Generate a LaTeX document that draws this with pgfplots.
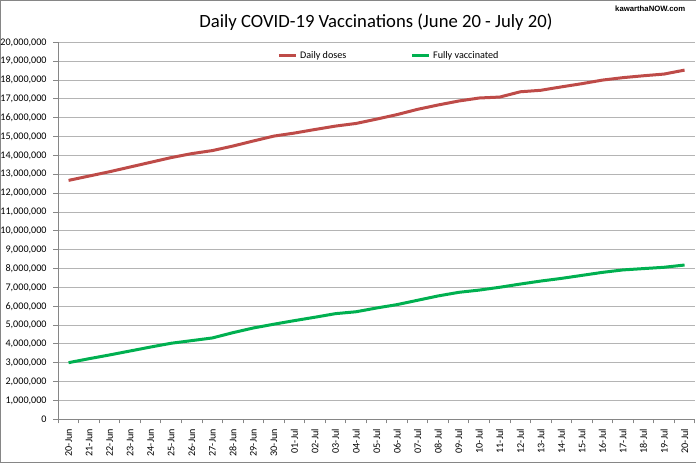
\documentclass[border=0pt]{standalone}
\usepackage{pgfplots}
\pgfplotsset{compat=1.18}
\usepackage{fontspec}
\setmainfont{Carlito}
\newfontfamily\wmfont{Liberation Sans}
\definecolor{doses}{HTML}{BE4B48}
\definecolor{fully}{HTML}{00B050}
\definecolor{gridgray}{HTML}{B4B4B4}
\definecolor{axgray}{HTML}{868686}

\begin{document}
\begin{tikzpicture}[x=0.75pt,y=0.75pt]
\useasboundingbox (0,0) rectangle (696,464);
% outer chart frame (right side is cropped in the reference)
\draw[axgray, line width=0.75pt] (700,463.5) -- (0.5,463.5) -- (0.5,1.3) -- (700,1.3);
\node[font=\fontsize{14}{16}\selectfont] at (376,442) {Daily COVID-19 Vaccinations (June 20 - July 20)};
\node[font=\wmfont\bfseries\fontsize{5.8}{7}\selectfont, anchor=east] at (690,455) {kawarthaNOW.com};

\begin{axis}[
  at={(43.725pt,33.45pt)}, anchor=south west,
  scale only axis, width=477.4pt, height=282.75pt,
  xmin=-0.5, xmax=30.5, ymin=0, ymax=20000000,
  axis x line*=bottom, axis y line*=left,
  axis line style={axgray, line width=0.75pt},
  tick align=outside,
  xtick={0,...,30},
  xticklabels={20-Jun,21-Jun,22-Jun,23-Jun,24-Jun,25-Jun,26-Jun,27-Jun,28-Jun,29-Jun,30-Jun,
    01-Jul,02-Jul,03-Jul,04-Jul,05-Jul,06-Jul,07-Jul,08-Jul,09-Jul,10-Jul,11-Jul,12-Jul,
    13-Jul,14-Jul,15-Jul,16-Jul,17-Jul,18-Jul,19-Jul,20-Jul},
  minor xtick={-0.5,0.5,...,30.5},
  every major x tick/.append style={draw=none},
  every minor x tick/.append style={axgray, line width=0.75pt},
  every major y tick/.append style={axgray, line width=0.75pt},
  major tick length=3.75pt, minor tick length=3pt,
  ytick distance=1000000,
  scaled y ticks=false,
  ymajorgrids, major grid style={gridgray, line width=0.75pt},
  yticklabel style={font=\fontsize{7.6}{9}\selectfont, xshift=-1.5pt,
    /pgf/number format/.cd, fixed, 1000 sep={,}, assume math mode=true},
  xticklabel style={font=\fontsize{7.6}{9}\selectfont, rotate=90, anchor=east},
  legend style={at={(0.52,0.964)}, anchor=center, draw=none, fill=none,
    font=\fontsize{7.6}{9}\selectfont,
    /tikz/every even column/.append style={column sep=46pt}},
  legend columns=2,
  legend image code/.code={\draw[#1] (0cm,0cm) -- (0.45cm,0cm);},
]
\addplot[doses, line width=2.25pt, line join=round, no marks] coordinates {
 (0,12680000) (1,12910000) (2,13140000) (3,13390000) (4,13640000) (5,13890000)
 (6,14100000) (7,14260000) (8,14500000) (9,14770000) (10,15030000) (11,15190000)
 (12,15380000) (13,15560000) (14,15700000) (15,15930000) (16,16170000) (17,16450000)
 (18,16680000) (19,16890000) (20,17050000) (21,17100000) (22,17380000) (23,17460000)
 (24,17640000) (25,17810000) (26,18000000) (27,18130000) (28,18230000) (29,18320000)
 (30,18530000)};
\addplot[fully, line width=2.25pt, line join=round, no marks] coordinates {
 (0,3010000) (1,3220000) (2,3420000) (3,3630000) (4,3840000) (5,4040000)
 (6,4180000) (7,4320000) (8,4600000) (9,4850000) (10,5050000) (11,5240000)
 (12,5420000) (13,5610000) (14,5710000) (15,5910000) (16,6090000) (17,6320000)
 (18,6550000) (19,6740000) (20,6860000) (21,7010000) (22,7180000) (23,7340000)
 (24,7480000) (25,7640000) (26,7800000) (27,7930000) (28,8000000) (29,8070000)
 (30,8190000)};
\legend{Daily doses, Fully vaccinated}
\end{axis}
\end{tikzpicture}
\end{document}
